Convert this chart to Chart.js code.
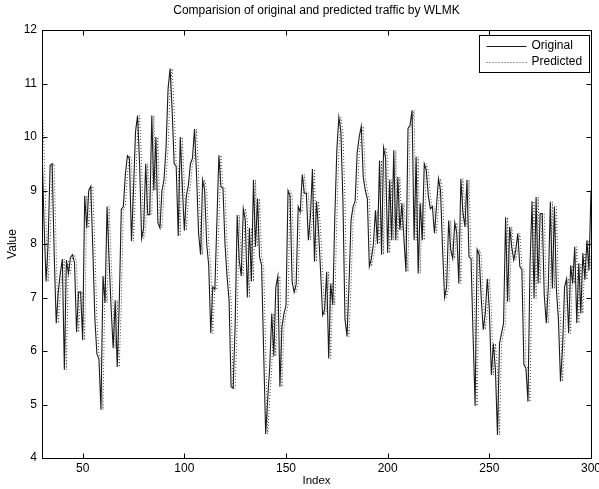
<!DOCTYPE html>
<html>
<head>
<meta charset="utf-8">
<script src="https://cdn.jsdelivr.net/npm/chart.js@4.4.1/dist/chart.umd.min.js"></script>
<style>
  html, body { margin: 0; padding: 0; background: #fff; }
  #wrap { width: 599px; height: 489px; }
</style>
</head>
<body>
<div id="wrap"><canvas id="c" width="599" height="489"></canvas></div>
<script>
// Traffic series, one value per index, starting at index 30
const firstIndex = 30;
const lastIndex = 300;

const originalValues = [
  9.8, 8.4, 7.3, 8.0, 9.47, 9.5, 7.8, 6.52, 7.1, 7.45,
  7.72, 5.65, 7.7, 7.45, 7.75, 7.8, 7.65, 6.35, 7.1, 7.1,
  6.2, 8.9, 8.3, 9.0, 9.08, 7.9, 6.6, 5.95, 5.85, 4.9,
  7.4, 6.9, 8.7, 7.7, 6.8, 6.05, 6.95, 5.7, 6.9, 8.65,
  8.7, 9.3, 9.65, 9.6, 8.05, 9.0, 10.1, 10.4, 9.5, 8.1,
  8.3, 9.5, 8.55, 8.55, 10.4, 9.0, 10.0, 8.4, 8.3, 9.0,
  9.2, 9.8, 10.9, 11.28, 10.5, 9.5, 9.45, 8.15, 10.0, 9.1,
  8.25, 8.9, 9.1, 9.5, 9.6, 10.15, 9.3, 8.2, 7.8, 9.2,
  9.0, 8.0, 7.6, 6.33, 7.2, 7.15, 8.4, 9.66, 9.07, 9.04,
  8.0, 7.4, 6.95, 5.33, 5.3, 6.5, 8.54, 7.7, 7.4, 8.66,
  8.44, 7.0, 8.3, 7.3, 9.2, 7.95, 8.85, 7.76, 7.6, 6.0,
  4.45, 5.1, 5.7, 6.7, 5.9, 7.2, 7.4, 5.33, 6.45, 6.7,
  6.85, 9.0, 8.9, 7.3, 7.1, 7.25, 8.7, 8.6, 9.3, 8.95,
  8.95, 8.07, 8.5, 9.4, 7.67, 8.8, 8.26, 7.5, 6.67, 6.77,
  7.48, 5.86, 7.26, 6.86, 8.5, 9.75, 10.37, 10.1, 8.8, 6.6,
  6.27, 7.26, 8.45, 8.7, 8.8, 9.7, 10.0, 10.2, 9.25, 9.0,
  8.85, 7.58, 7.73, 8.0, 8.63, 8.0, 9.56, 7.8, 9.8, 9.6,
  7.83, 9.2, 8.07, 9.75, 8.07, 9.25, 8.26, 8.76, 8.1, 7.48,
  10.16, 10.22, 10.5, 8.07, 9.63, 7.45, 8.76, 8.07, 9.5, 9.38,
  8.9, 8.66, 8.7, 8.2, 8.7, 9.22, 9.0, 7.9, 7.0, 7.2,
  8.44, 7.9, 7.73, 8.4, 8.2, 7.26, 9.22, 8.6, 8.32, 9.2,
  7.76, 7.73, 6.3, 4.97, 7.9, 7.8, 7.0, 6.4, 6.7, 7.35,
  6.77, 5.55, 6.14, 5.65, 4.43, 6.14, 6.33, 6.52, 8.5, 6.92,
  8.32, 7.95, 7.7, 7.89, 8.2, 7.58, 7.52, 5.74, 5.68, 5.05,
  7.58, 8.8, 6.98, 8.88, 7.26, 8.57, 8.57, 7.05, 6.52, 7.2,
  8.79, 7.17, 8.7, 7.14, 6.58, 5.43, 6.05, 7.2, 7.35, 6.33,
  7.6, 7.26, 7.95, 6.52, 7.64, 6.7, 7.83, 7.33, 8.07, 7.5, 9.0
];

const predictedValues = [
  10.6, 9.8, 8.4, 7.3, 8.0, 9.47, 9.5, 7.8, 6.52, 7.1,
  7.45, 7.72, 5.65, 7.7, 7.45, 7.75, 7.8, 7.65, 6.35, 7.1,
  7.1, 6.2, 8.9, 8.3, 9.0, 9.08, 7.9, 6.6, 5.95, 5.85,
  4.9, 7.4, 6.9, 8.7, 7.7, 6.8, 6.05, 6.95, 5.7, 6.9,
  8.65, 8.7, 9.3, 9.65, 9.6, 8.05, 9.0, 10.1, 10.4, 9.5,
  8.1, 8.3, 9.5, 8.55, 8.55, 10.4, 9.0, 10.0, 8.4, 8.3,
  9.0, 9.2, 9.8, 10.9, 11.28, 10.5, 9.5, 9.45, 8.15, 10.0,
  9.1, 8.25, 8.9, 9.1, 9.5, 9.6, 10.15, 9.3, 8.2, 7.8,
  9.2, 9.0, 8.0, 7.6, 6.33, 7.2, 7.15, 8.4, 9.66, 9.07,
  9.04, 8.0, 7.4, 6.95, 5.33, 5.3, 6.5, 8.54, 7.7, 7.4,
  8.66, 8.44, 7.0, 8.3, 7.3, 9.2, 7.95, 8.85, 7.76, 7.6,
  6.0, 4.45, 5.1, 5.7, 6.7, 5.9, 7.2, 7.4, 5.33, 6.45,
  6.7, 6.85, 9.0, 8.9, 7.3, 7.1, 7.25, 8.7, 8.6, 9.3,
  8.95, 8.95, 8.07, 8.5, 9.4, 7.67, 8.8, 8.26, 7.5, 6.67,
  6.77, 7.48, 5.86, 7.26, 6.86, 8.5, 9.75, 10.37, 10.1, 8.8,
  6.6, 6.27, 7.26, 8.45, 8.7, 8.8, 9.7, 10.0, 10.2, 9.25,
  9.0, 8.85, 7.58, 7.73, 8.0, 8.63, 8.0, 9.56, 7.8, 9.8,
  9.6, 7.83, 9.2, 8.07, 9.75, 8.07, 9.25, 8.26, 8.76, 8.1,
  7.48, 10.16, 10.22, 10.5, 8.07, 9.63, 7.45, 8.76, 8.07, 9.5,
  9.38, 8.9, 8.66, 8.7, 8.2, 8.7, 9.22, 9.0, 7.9, 7.0,
  7.2, 8.44, 7.9, 7.73, 8.4, 8.2, 7.26, 9.22, 8.6, 8.32,
  9.2, 7.76, 7.73, 6.3, 4.97, 7.9, 7.8, 7.0, 6.4, 6.7,
  7.35, 6.77, 5.55, 6.14, 5.65, 4.43, 6.14, 6.33, 6.52, 8.5,
  6.92, 8.32, 7.95, 7.7, 7.89, 8.2, 7.58, 7.52, 5.74, 5.68,
  5.05, 7.58, 8.8, 6.98, 8.88, 7.26, 8.57, 8.57, 7.05, 6.52,
  7.2, 8.79, 7.17, 8.7, 7.14, 6.58, 5.43, 6.05, 7.2, 7.35,
  6.33, 7.6, 7.26, 7.95, 6.52, 7.64, 6.7, 7.83, 7.33, 8.07, 7.5
];

const xTickValues = [50, 100, 150, 200, 250, 300];
const yTickValues = [4, 5, 6, 7, 8, 9, 10, 11, 12];

const chartTitle = 'Comparision of original and predicted traffic by WLMK';
const seriesNames = ['Original', 'Predicted'];

const indexLabels = [];
for (let i = firstIndex; i <= lastIndex; i++) indexLabels.push(i);

const FONT = '"Liberation Sans", Arial, Helvetica, sans-serif';

// Boxed axes with inward ticks, title and a boxed legend
const framePlugin = {
  id: 'frame',
  afterDraw(chart) {
    const { ctx, chartArea: a, scales } = chart;
    const x = scales.x, y = scales.y;
    const L = Math.round(a.left) + 0.5, R = Math.round(a.right) + 0.5;
    const T = Math.round(a.top) + 0.5, B = Math.round(a.bottom) + 0.5;
    const tick = 5;
    ctx.save();
    ctx.strokeStyle = '#000';
    ctx.lineWidth = 1;
    ctx.setLineDash([]);
    ctx.strokeRect(L, T, R - L, B - T);
    ctx.beginPath();
    x.ticks.forEach(t => {
      const px = Math.round(x.getPixelForValue(t.value)) + 0.5;
      ctx.moveTo(px, B); ctx.lineTo(px, B - tick);
      ctx.moveTo(px, T); ctx.lineTo(px, T + tick);
    });
    y.ticks.forEach(t => {
      const py = Math.round(y.getPixelForValue(t.value)) + 0.5;
      ctx.moveTo(L, py); ctx.lineTo(L + tick, py);
      ctx.moveTo(R, py); ctx.lineTo(R - tick, py);
    });
    ctx.stroke();

    // title
    ctx.fillStyle = '#000';
    ctx.font = '12px ' + FONT;
    ctx.textAlign = 'center';
    ctx.textBaseline = 'middle';
    ctx.fillText(chartTitle, (a.left + a.right) / 2, 11);

    // legend
    const bw = 110, bh = 37;
    const bx = Math.round(a.right) - 2 - bw + 0.5, by = Math.round(a.top) + 5 + 0.5;
    ctx.fillStyle = '#fff';
    ctx.fillRect(bx, by, bw, bh);
    ctx.strokeStyle = '#000';
    ctx.strokeRect(bx, by, bw, bh);
    chart.data.datasets.forEach((ds, i) => {
      const ly = by + 10 + i * 16;
      ctx.beginPath();
      ctx.strokeStyle = ds.borderColor;
      ctx.setLineDash(ds.borderDash || []);
      ctx.moveTo(bx + 7, Math.round(ly) + 0.5);
      ctx.lineTo(bx + 47, Math.round(ly) + 0.5);
      ctx.stroke();
      ctx.setLineDash([]);
      ctx.fillStyle = '#000';
      ctx.textAlign = 'left';
      ctx.fillText(ds.label, bx + 52, ly + 0.5);
    });
    ctx.restore();
  }
};

new Chart(document.getElementById('c'), {
  type: 'line',
  data: {
    labels: indexLabels,
    datasets: [
      {
        label: seriesNames[0],
        data: originalValues,
        borderColor: '#1a1a1a',
        borderWidth: 1.1,
        pointRadius: 0,
        tension: 0,
        fill: false
      },
      {
        label: seriesNames[1],
        data: predictedValues,
        borderColor: '#444',
        borderWidth: 1,
        borderDash: [1, 2],
        pointRadius: 0,
        tension: 0,
        fill: false
      }
    ]
  },
  options: {
    responsive: false,
    animation: false,
    devicePixelRatio: 1,
    layout: { padding: { left: 0, right: 8, top: 30, bottom: 0 } },
    plugins: {
      legend: { display: false },
      title: { display: false },
      tooltip: { enabled: false }
    },
    scales: {
      x: {
        type: 'linear',
        min: firstIndex,
        max: lastIndex,
        grid: { display: false, drawTicks: false },
        border: { display: false },
        afterBuildTicks: s => { s.ticks = xTickValues.map(v => ({ value: v })); },
        afterFit: s => { s.height = 31; s.paddingLeft = 0; s.paddingRight = 0; },
        ticks: {
          color: '#000',
          font: { family: FONT, size: 12 },
          padding: 3,
          maxRotation: 0,
          autoSkip: false
        },
        title: {
          display: true,
          text: 'Index',
          color: '#000',
          font: { family: FONT, size: 11.5 },
          padding: { top: 0, bottom: 1 }
        }
      },
      y: {
        min: 4,
        max: 12,
        grid: { display: false, drawTicks: false },
        border: { display: false },
        afterBuildTicks: s => { s.ticks = yTickValues.map(v => ({ value: v })); },
        afterFit: s => { s.width = 42; s.paddingTop = 0; s.paddingBottom = 0; },
        ticks: {
          color: '#000',
          font: { family: FONT, size: 12 },
          padding: 5,
          autoSkip: false
        },
        title: {
          display: true,
          text: 'Value',
          color: '#000',
          font: { family: FONT, size: 12 },
          padding: { top: 5, bottom: 0 }
        }
      }
    }
  },
  plugins: [framePlugin]
});
</script>
</body>
</html>
